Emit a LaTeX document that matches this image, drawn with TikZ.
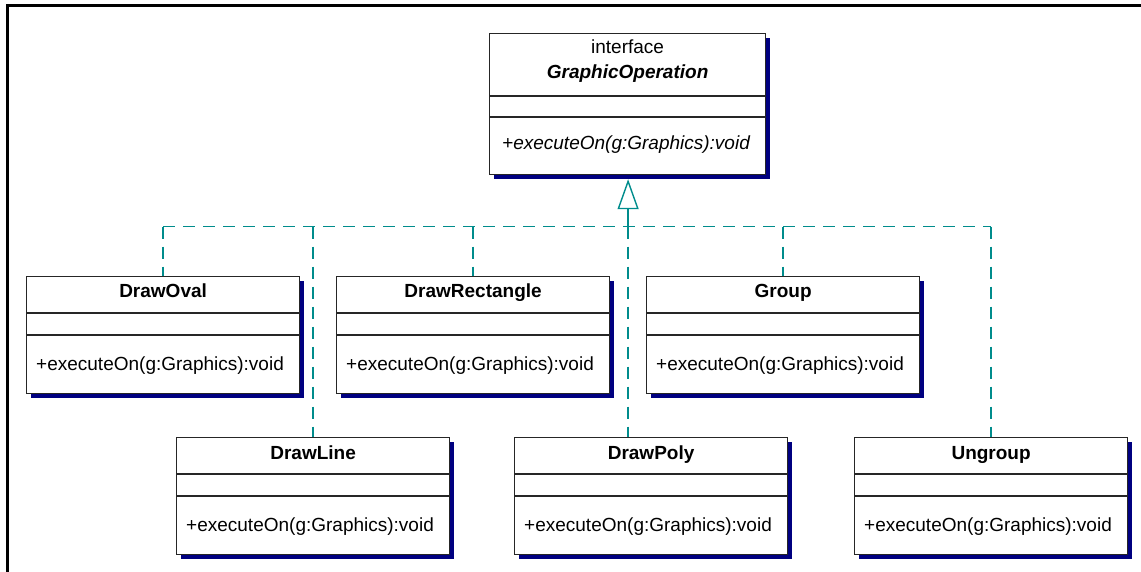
\documentclass[tikz,border=0pt]{standalone}
\usepackage{fontspec}
\setmainfont{Liberation Sans}
\usetikzlibrary{arrows.meta,shadows,calc}

\definecolor{shadowblue}{RGB}{0,0,128}
\definecolor{realteal}{RGB}{0,140,140}
\newcommand\umlfont{\fontsize{19}{22}\selectfont}

\tikzset{
  classbox/.style={draw=black!85, line width=1.2pt, fill=white, anchor=north west,
    minimum width=273pt, minimum height=117pt, inner sep=0pt,
    drop shadow={shadow xshift=4pt, shadow yshift=-4pt, fill=shadowblue, opacity=1}},
  classname/.style={font=\umlfont\bfseries, anchor=base, inner sep=0pt},
  method/.style={font=\umlfont, anchor=base west, inner sep=0pt},
  divider/.style={draw=black!85, line width=1.2pt},
  realize/.style={draw=realteal, line width=1.6pt, dash pattern=on 12pt off 8pt},
}

\begin{document}
\begin{tikzpicture}[x=1pt,y=-1pt]
  \useasboundingbox (0,0) rectangle (1141,572);
  \draw[line width=2.5pt] (7.5,572) |- (1141,5.5);
  % the interface
  \node[classbox, minimum width=276pt, minimum height=141pt] (GraphicOperation) at (489,33) {};
  \node[font=\umlfont, anchor=base, inner sep=0pt] (stereo) at ($(GraphicOperation.north)+(0,21)$) {interface};
  \node[classname, font=\umlfont\bfseries\itshape] (GraphicOperation-name) at ($(GraphicOperation.north)+(0,46)$) {GraphicOperation};
  \draw[divider] ($(GraphicOperation.north west)+(0,63)$) -- ($(GraphicOperation.north east)+(0,63)$);
  \draw[divider] ($(GraphicOperation.north west)+(0,84)$) -- ($(GraphicOperation.north east)+(0,84)$);
  \node[method, font=\umlfont\itshape] (GraphicOperation-op) at ($(GraphicOperation.north west)+(13,117)$) {+executeOn(g:Graphics):void};
  % the classes
  \foreach \id/\x/\y in {DrawOval/26/276, DrawRectangle/336/276, Group/646/276,
                         DrawLine/176/437, DrawPoly/514/437, Ungroup/854/437} {
    \node[classbox] (\id) at (\x,\y) {};
    \node[classname] (\id-name) at ($(\id.north)+(0,22)$) {\id};
    \draw[divider] ($(\id.north west)+(0,37)$) -- ($(\id.north east)+(0,37)$);
    \draw[divider] ($(\id.north west)+(0,59)$) -- ($(\id.north east)+(0,59)$);
    \node[method] (\id-op) at ($(\id.north west)+(10,94)$) {+executeOn(g:Graphics):void};
  }
  % realization
  \coordinate (bus) at (0,226.7);
  \coordinate (tip) at ($(GraphicOperation.south)+(0.5,4)$);
  \draw[realize] (DrawOval.north |- bus) -- (Ungroup.north |- bus);
  \foreach \id in {DrawOval,DrawRectangle,Group,DrawLine,Ungroup}
    \draw[realize] (\id.north |- bus) -- (\id.north);
  \draw[realize] (tip |- bus) -- (tip |- DrawPoly.north);
  \draw[realize, solid, -{Triangle[open, length=30pt, width=21pt, line width=1.4pt]}]
    (tip |- bus) -- (tip);
\end{tikzpicture}
\end{document}
